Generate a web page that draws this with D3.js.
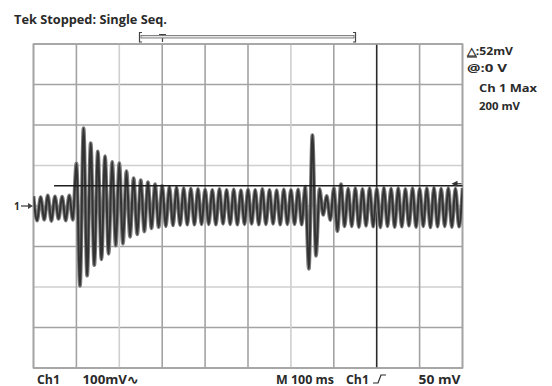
<!DOCTYPE html>
<html><head><meta charset="utf-8">
<script src="https://cdn.jsdelivr.net/npm/d3@7"></script>
<style>html,body{margin:0;padding:0;background:#fff}svg{display:block}</style>
</head><body>
<svg id="c" width="552" height="386"></svg>
<script>
const timeDivMs = 100;          // M 100 ms
const voltDivMv = 100;          // Ch1 100mV
const hDivs = 10, vDivs = 8;
const cycleMs = 16.67;          // spacing of the peaks (60 Hz)
const triggerLevelMv = 50;      // Ch1 trigger 50 mV
const triggerLineStartMs = 48;
// peak (max) of each cycle, mV
const peaksMv = [24, 22, 26, 24, 23, 26, 105, 192, 155, 135, 123, 109, 106, 86, 69, 64, 59, 54, 50, 47,
  46, 44, 43, 42, 41, 40, 42, 40, 41, 39, 41, 40, 42, 40, 39, 41, 40, 41, 48, 175,
  42, 25, 44, 54, 43, 44, 42, 44, 43, 45, 43, 44, 42, 44, 43, 44, 45, 43, 44, 43, 44];
// trough (min) of each cycle, mV
const troughsMv = [-36, -34, -37, -32, -36, -34, -197, -172, -146, -132, -118, -98, -93, -76, -70, -63, -55, -52, -50, -48,
  -47, -46, -46, -45, -45, -46, -44, -45, -46, -45, -44, -46, -45, -44, -46, -45, -45, -46, -155, -123,
  -22, -35, -62, -50, -50, -52, -49, -51, -53, -50, -52, -51, -49, -52, -50, -53, -51, -50, -52, -51];
const title = "Tek Stopped: Single Seq.";
const sideLabels = ["\u25B3:52mV", "@:0 V", "Ch 1 Max", "200 mV"];
const bottomLabels = ["Ch1", "100mV\u223F", "M 100 ms", "Ch1", "50 mV"];

// ---- drawing ----
const svg = d3.select("#c");
const L = 33.5, R = 462.5, T = 44, B = 368;
const x = d3.scaleLinear().domain([0, hDivs * timeDivMs]).range([L, R]);
const y = d3.scaleLinear().domain([-vDivs / 2 * voltDivMv, vDivs / 2 * voltDivMv]).range([B, T]);

const font = "'Open Sans', 'Liberation Sans', sans-serif";
const txtCol = "#2a2a2a";

// grid
const g = svg.append("g");
const vLines = d3.range(0, hDivs + 1).map(i => i * timeDivMs);
const hLines = d3.range(-vDivs / 2, vDivs / 2 + 1).map(i => i * voltDivMv);
const vStyle = i => i === 8 ? "#2a2a2a" : (i === 2 || i === 6) ? "#cfcfcf" : "#a3a3a3";
const hStyle = v => (v === 100 || v === -200) ? "#cfcfcf" : "#a3a3a3";
g.selectAll(".h").data(hLines).join("line")
  .attr("x1", L).attr("x2", R).attr("y1", d => y(d)).attr("y2", d => y(d))
  .attr("stroke", d => hStyle(d)).attr("stroke-width", 1.6);
g.selectAll(".v").data(vLines).join("line")
  .attr("x1", d => x(d)).attr("x2", d => x(d)).attr("y1", T).attr("y2", B)
  .attr("stroke", (d, i) => vStyle(i)).attr("stroke-width", 1.6);
g.append("rect").attr("x", L).attr("y", T).attr("width", R - L).attr("height", B - T)
  .attr("fill", "none").attr("stroke", "#a3a3a3").attr("stroke-width", 1.6);

// trace
const pts = [];
peaksMv.forEach((v, i) => pts.push({t: i * cycleMs, v}));
troughsMv.forEach((v, i) => pts.push({t: (i + 0.5) * cycleMs, v}));
pts.sort((a, b) => a.t - b.t);
const line = d3.line().x(d => x(d.t)).y(d => y(d.v)).curve(d3.curveMonotoneX);
svg.append("clipPath").attr("id", "clip").append("rect")
  .attr("x", L).attr("y", T).attr("width", R - L).attr("height", B - T);
const tr = svg.append("g").attr("clip-path", "url(#clip)");
tr.append("path").attr("d", line(pts)).attr("fill", "none")
  .attr("stroke", "#7d7d7d").attr("stroke-width", 3.8).attr("stroke-linejoin", "round");
tr.append("path").attr("d", line(pts)).attr("fill", "none")
  .attr("stroke", "#333").attr("stroke-width", 2).attr("stroke-linejoin", "round");

// trigger level line and marker
const yTrig = y(triggerLevelMv);
svg.append("line").attr("x1", x(triggerLineStartMs)).attr("x2", R).attr("y1", yTrig).attr("y2", yTrig)
  .attr("stroke", "#1e1e1e").attr("stroke-width", 1.3);
svg.append("path").attr("d", `M${R - 11},${yTrig - 2} l6,-3 l0,6 z`).attr("fill", "#333");
svg.append("line").attr("x1", R - 6).attr("x2", R - 1).attr("y1", yTrig - 2).attr("y2", yTrig - 2)
  .attr("stroke", "#333").attr("stroke-width", 1.2);

// ground marker "1→"
const y0 = y(0);
svg.append("text").attr("x", 14).attr("y", y0 + 4).text("1")
  .attr("font-family", font).attr("font-size", 10).attr("font-weight", 700).attr("fill", txtCol);
svg.append("line").attr("x1", 21).attr("x2", 30).attr("y1", y0).attr("y2", y0)
  .attr("stroke", "#444").attr("stroke-width", 1.3);
svg.append("path").attr("d", `M${33},${y0} l-5,-3 l0,6 z`).attr("fill", "#444");

// title
svg.append("text").attr("x", 14).attr("y", 24).text(title)
  .attr("font-family", font).attr("font-size", 12).attr("font-weight", 700).attr("fill", txtCol)
  .attr("textLength", 153).attr("lengthAdjust", "spacingAndGlyphs");

// record bracket
const bg = svg.append("g").attr("stroke", "#444").attr("fill", "none").attr("stroke-width", 1.2);
bg.append("path").attr("d", "M142,32.5 L139.5,32.5 L139.5,42 L142,42");
bg.append("path").attr("d", "M353,32.5 L355.5,32.5 L355.5,42 L353,42");
svg.append("rect").attr("x", 141).attr("y", 35.5).attr("width", 213).attr("height", 2.5)
  .attr("fill", "#e6e6e6").attr("stroke", "#666").attr("stroke-width", 0.8);
bg.append("path").attr("d", "M159,34.5 L166,34.5 M162.5,34.5 L162.5,42");

// side readouts
const sidePos = [[467, 55, 46], [467, 72, 40], [479, 92, 58], [479, 110, 41]];
sideLabels.forEach((s, i) => {
  svg.append("text").attr("x", sidePos[i][0]).attr("y", sidePos[i][1]).text(s)
    .attr("font-family", font).attr("font-size", 11).attr("font-weight", 700).attr("fill", txtCol)
    .attr("textLength", sidePos[i][2]).attr("lengthAdjust", "spacingAndGlyphs");
});
svg.append("line").attr("x1", 467).attr("x2", 477).attr("y1", 57).attr("y2", 57)
  .attr("stroke", txtCol).attr("stroke-width", 1.2);

// bottom readouts
const botPos = [[37, 23], [82.5, 56], [276, 58], [346, 23], [418.5, 42]];
bottomLabels.forEach((s, i) => {
  svg.append("text").attr("x", botPos[i][0]).attr("y", 384).text(s)
    .attr("font-family", font).attr("font-size", 11.5).attr("font-weight", 700).attr("fill", txtCol)
    .attr("textLength", botPos[i][1]).attr("lengthAdjust", "spacingAndGlyphs");
});
// trigger slope symbol
svg.append("path").attr("d", "M373,383 L378,383 L381,375 L386,375").attr("fill", "none")
  .attr("stroke", txtCol).attr("stroke-width", 1.2);
</script>
</body></html>
